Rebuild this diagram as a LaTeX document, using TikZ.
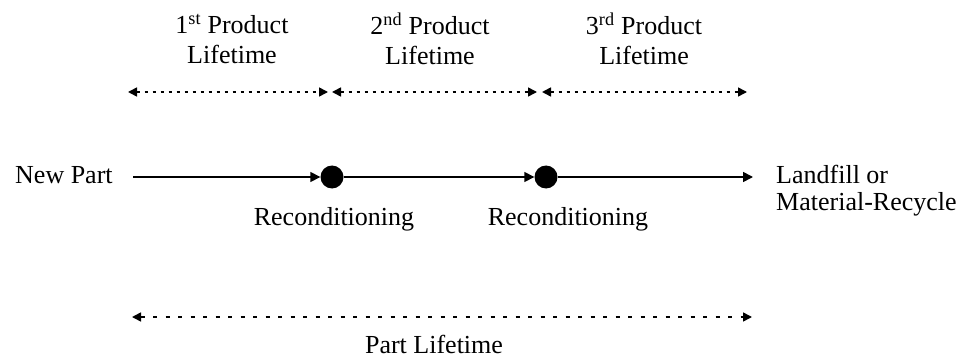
\documentclass[tikz,border=0pt]{standalone}
\usepackage{fontspec}
\setmainfont{Liberation Serif}
\usetikzlibrary{arrows.meta}

\tikzset{
  flow/.style={line width=1.6pt, -{Triangle[length=10pt,width=10pt]}},
  span/.style={line width=1.6pt, dash pattern=on 3pt off 5pt,
    {Triangle[length=9pt,width=9pt]}-{Triangle[length=9pt,width=9pt]}},
  whole/.style={span, dash pattern=on 4pt off 8.5pt},
  station/.style={circle, fill=black, inner sep=0pt, minimum size=23pt},
  lbl/.style={inner sep=0pt, font=\fontsize{26}{30}\selectfont},
}

\begin{document}
\begin{tikzpicture}[x=1pt,y=-1pt]
\useasboundingbox (0,0) rectangle (968,358);

% product lifetimes
\node[lbl, align=center] (life1) at (232,39) {1\textsuperscript{st} Product\\Lifetime};
\node[lbl, align=center] (life2) at (430,39) {2\textsuperscript{nd} Product\\Lifetime};
\node[lbl, align=center] (life3) at (644,39) {3\textsuperscript{rd} Product\\Lifetime};
\coordinate (t0) at (128,92);
\coordinate (t1) at (328,92);
\coordinate (t2) at (332,92);
\coordinate (t3) at (537,92);
\coordinate (t4) at (542,92);
\coordinate (t5) at (747,92);
\draw[span] (t0) -- (t1);
\draw[span] (t2) -- (t3);
\draw[span] (t4) -- (t5);

% the part's path
\node[lbl, anchor=base west] (newpart) at (15,183) {New Part};
\coordinate (start) at (133,177);
\node[station] (rc1) at (332,177) {};
\node[station] (rc2) at (546,177) {};
\coordinate (stop) at (753,177);
\draw[flow] (start) -- (rc1);
\draw[flow] (rc1) -- (rc2);
\draw[flow] (rc2) -- (stop);
\node[lbl, anchor=base] (recon1) at (334,225) {Reconditioning};
\node[lbl, anchor=base] (recon2) at (568,225) {Reconditioning};
\node[lbl, anchor=west, align=left, font=\fontsize{26}{27}\selectfont] (endlife) at (776,190.5)
  {Landfill or\\Material-Recycle};

% whole part lifetime
\coordinate (p0) at (132,317);
\coordinate (p1) at (752,317);
\draw[whole] (p0) -- (p1);
\node[lbl, anchor=base] (partlife) at (434,353) {Part Lifetime};

\end{tikzpicture}
\end{document}
